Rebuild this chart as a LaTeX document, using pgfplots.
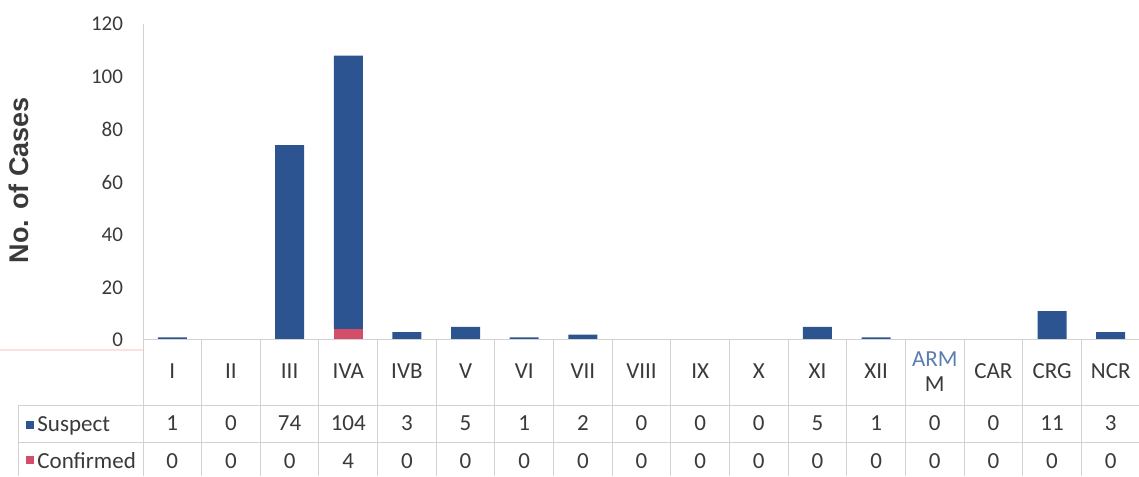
\documentclass[border=0pt]{standalone}
\usepackage{fontspec}
\setmainfont{Carlito}
\newfontfamily\arialfont{Liberation Sans}
\usepackage{pgfplots}
\pgfplotsset{compat=1.18}

\definecolor{suspect}{HTML}{2C5490}
\definecolor{confirmed}{HTML}{D24E6A}
\definecolor{txt}{HTML}{3A3A3A}
\definecolor{gridc}{HTML}{D2D2D2}
\definecolor{armblue}{HTML}{5B7DB0}

% image pixel -> picture point (0.5pt per px, y from the top)
\newcommand\px[2]{({(#1)*0.5pt},{(476-(#2))*0.5pt})}
\newcommand\tabfont{\fontsize{11.5}{12.5}\selectfont}

\begin{document}
\begin{tikzpicture}
\path[use as bounding box] (0,0) rectangle (569.5pt,238pt);

\begin{axis}[
  at={(71.5pt,68pt)}, anchor=south west,
  scale only axis,
  width=498.5pt, height=158pt,
  xmin=-0.5, xmax=16.5,
  ymin=0, ymax=120,
  ybar stacked,
  bar width=14.5pt,
  axis x line*=bottom,
  axis y line*=left,
  axis line style={draw=gridc, line width=0.5pt},
  ytick={0,20,...,120},
  xtick={0,...,16},
  xticklabels={I,II,III,IVA,IVB,V,VI,VII,VIII,IX,X,XI,XII,{\textcolor{armblue}{ARM}\\M},CAR,CRG,NCR},
  x tick label style={anchor=center, yshift=-15.75pt, align=center, font=\tabfont, text=txt},
  y tick label style={xshift=-6.5pt, font=\fontsize{10.5}{12}\selectfont, text=txt},
  /pgf/number format/assume math mode=true,
  major tick length=0pt,
  clip=false,
]
\addplot[fill=confirmed, draw=none] coordinates {
  (0,0) (1,0) (2,0) (3,4) (4,0) (5,0) (6,0) (7,0) (8,0)
  (9,0) (10,0) (11,0) (12,0) (13,0) (14,0) (15,0) (16,0)
};
\addplot[fill=suspect, draw=none] coordinates {
  (0,1) (1,0) (2,74) (3,104) (4,3) (5,5) (6,1) (7,2) (8,0)
  (9,0) (10,0) (11,5) (12,1) (13,0) (14,0) (15,11) (16,3)
};
\end{axis}

% y axis title
\node[rotate=90, font=\arialfont\bfseries\fontsize{13.5}{15}\selectfont, text=txt] at \px{19}{180} {No. of Cases};

% data table grid
\begin{scope}[draw=gridc, line width=0.5pt]
  \draw \px{143}{340} -- \px{1139}{340};
  \draw \px{18}{406} -- \px{1139}{406};
  \draw \px{18}{443} -- \px{1139}{443};
  \draw \px{18}{406} -- \px{18}{476};
  \foreach \k in {0,...,16} {
    \draw \px{143+58.647*\k}{340} -- \px{143+58.647*\k}{476};
  }
\end{scope}
\draw[red!12, line width=0.6pt] \px{0}{350} -- \px{143}{350};

% row headers with legend keys
\fill[suspect] \px{26}{421} rectangle \px{34}{429};
\fill[confirmed] \px{26}{456} rectangle \px{34}{464};
\node[anchor=base west, inner sep=0pt, font=\tabfont, text=txt] at \px{37}{432} {Suspect};
\node[anchor=base west, inner sep=0pt, font=\tabfont, text=txt] at \px{37}{468} {Confirmed};

% row values
\foreach \v [count=\i from 0] in {1,0,74,104,3,5,1,2,0,0,0,5,1,0,0,11,3} {
  \node[anchor=base, inner sep=0pt, font=\tabfont, text=txt] at \px{143+58.647*(\i+0.5)}{431} {\v};
}
\foreach \v [count=\i from 0] in {0,0,0,4,0,0,0,0,0,0,0,0,0,0,0,0,0} {
  \node[anchor=base, inner sep=0pt, font=\tabfont, text=txt] at \px{143+58.647*(\i+0.5)}{468} {\v};
}
\end{tikzpicture}
\end{document}
